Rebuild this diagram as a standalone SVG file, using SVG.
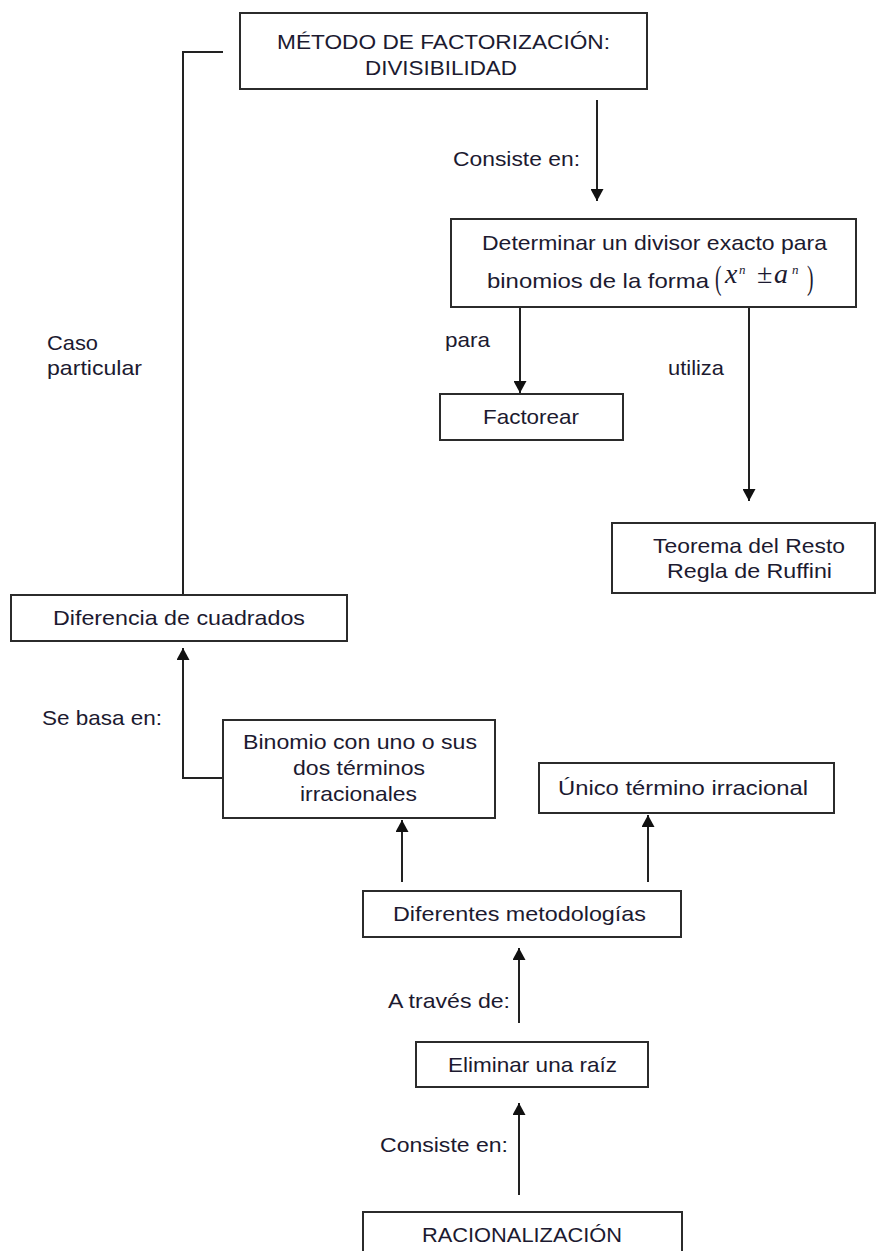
<svg xmlns="http://www.w3.org/2000/svg" width="877" height="1251" viewBox="0 0 877 1251">
<style>
.box{fill:#fff;stroke:#2b2b2b;stroke-width:2}
.t{font-family:"Liberation Sans",Arial,sans-serif;font-size:21px;fill:#1c1a30}
.m{font-family:"Liberation Serif","Times New Roman",serif;fill:#1c1a30}
.c{fill:none;stroke:#222;stroke-width:2}
</style>
<defs>
<marker id="ah" markerUnits="userSpaceOnUse" markerWidth="13" markerHeight="13" refX="12" refY="6.5" orient="auto">
<path d="M0,0 L12,6.5 L0,13 z" fill="#111"/>
</marker>
</defs>
<rect width="877" height="1251" fill="#fff"/>
<g id="connectors">
<line class="c" x1="597" y1="100" x2="597" y2="201" marker-end="url(#ah)"/>
<line class="c" x1="520" y1="307" x2="520" y2="393" marker-end="url(#ah)"/>
<line class="c" x1="749" y1="307" x2="749" y2="501" marker-end="url(#ah)"/>
<polyline class="c" points="183,596 183,52 223,52"/>
<polyline class="c" points="223,778 183,778 183,648" marker-end="url(#ah)"/>
<line class="c" x1="402" y1="882" x2="402" y2="820" marker-end="url(#ah)"/>
<line class="c" x1="648" y1="882" x2="648" y2="815" marker-end="url(#ah)"/>
<line class="c" x1="519" y1="1023" x2="519" y2="948" marker-end="url(#ah)"/>
<line class="c" x1="519" y1="1195" x2="519" y2="1103" marker-end="url(#ah)"/>
</g>
<g id="labels">
<text class="t" x="453" y="166" textLength="127" lengthAdjust="spacingAndGlyphs">Consiste en:</text>
<text class="t" x="445" y="347" textLength="45" lengthAdjust="spacingAndGlyphs">para</text>
<text class="t" x="668" y="375" textLength="56" lengthAdjust="spacingAndGlyphs">utiliza</text>
<text class="t" x="47" y="350" textLength="51" lengthAdjust="spacingAndGlyphs">Caso</text>
<text class="t" x="47" y="375" textLength="95" lengthAdjust="spacingAndGlyphs">particular</text>
<text class="t" x="42" y="725" textLength="120" lengthAdjust="spacingAndGlyphs">Se basa en:</text>
<text class="t" x="388" y="1008" textLength="122" lengthAdjust="spacingAndGlyphs">A través de:</text>
<text class="t" x="380" y="1152" textLength="128" lengthAdjust="spacingAndGlyphs">Consiste en:</text>
</g>
<g id="metodo">
<rect class="box" x="240" y="13" width="407" height="76"/>
<text class="t" x="277" y="49" textLength="333" lengthAdjust="spacingAndGlyphs">MÉTODO DE FACTORIZACIÓN:</text>
<text class="t" x="365" y="75" textLength="152" lengthAdjust="spacingAndGlyphs">DIVISIBILIDAD</text>
</g>
<g id="determinar">
<rect class="box" x="451" y="219" width="405" height="88"/>
<text class="t" x="482" y="250" textLength="345" lengthAdjust="spacingAndGlyphs">Determinar un divisor exacto para</text>
<text class="t" x="487" y="288" textLength="222" lengthAdjust="spacingAndGlyphs">binomios de la forma</text>
<text class="m" font-size="30" transform="translate(715,289) scale(0.65,1.15)">(</text>
<text class="m" font-size="28" font-style="italic" x="725" y="283">x</text>
<text class="m" font-size="13" font-style="italic" x="739" y="274">n</text>
<text class="m" font-size="28" x="757" y="283">±</text>
<text class="m" font-size="28" font-style="italic" x="774" y="283">a</text>
<text class="m" font-size="13" font-style="italic" x="792" y="274">n</text>
<text class="m" font-size="30" transform="translate(807,289) scale(0.65,1.15)">)</text>
</g>
<g id="factorear">
<rect class="box" x="440" y="394" width="183" height="46"/>
<text class="t" x="483" y="424" textLength="96" lengthAdjust="spacingAndGlyphs">Factorear</text>
</g>
<g id="teorema">
<rect class="box" x="612" y="523" width="263" height="70"/>
<text class="t" x="653" y="553" textLength="192" lengthAdjust="spacingAndGlyphs">Teorema del Resto</text>
<text class="t" x="667" y="578" textLength="165" lengthAdjust="spacingAndGlyphs">Regla de Ruffini</text>
</g>
<g id="diferencia">
<rect class="box" x="11" y="595" width="336" height="46"/>
<text class="t" x="53" y="625" textLength="252" lengthAdjust="spacingAndGlyphs">Diferencia de cuadrados</text>
</g>
<g id="binomio">
<rect class="box" x="223" y="720" width="272" height="98"/>
<text class="t" x="243" y="749" textLength="234" lengthAdjust="spacingAndGlyphs">Binomio con uno o sus</text>
<text class="t" x="293" y="775" textLength="132" lengthAdjust="spacingAndGlyphs">dos términos</text>
<text class="t" x="300" y="801" textLength="117" lengthAdjust="spacingAndGlyphs">irracionales</text>
</g>
<g id="unico">
<rect class="box" x="539" y="763" width="295" height="50"/>
<text class="t" x="558" y="795" textLength="250" lengthAdjust="spacingAndGlyphs">Único término irracional</text>
</g>
<g id="diferentes">
<rect class="box" x="363" y="891" width="318" height="46"/>
<text class="t" x="393" y="921" textLength="253" lengthAdjust="spacingAndGlyphs">Diferentes metodologías</text>
</g>
<g id="eliminar">
<rect class="box" x="416" y="1042" width="232" height="45"/>
<text class="t" x="448" y="1072" textLength="169" lengthAdjust="spacingAndGlyphs">Eliminar una raíz</text>
</g>
<g id="racionalizacion">
<rect class="box" x="363" y="1212" width="319" height="60"/>
<text class="t" x="422" y="1242" textLength="200" lengthAdjust="spacingAndGlyphs">RACIONALIZACIÓN</text>
</g>
</svg>
